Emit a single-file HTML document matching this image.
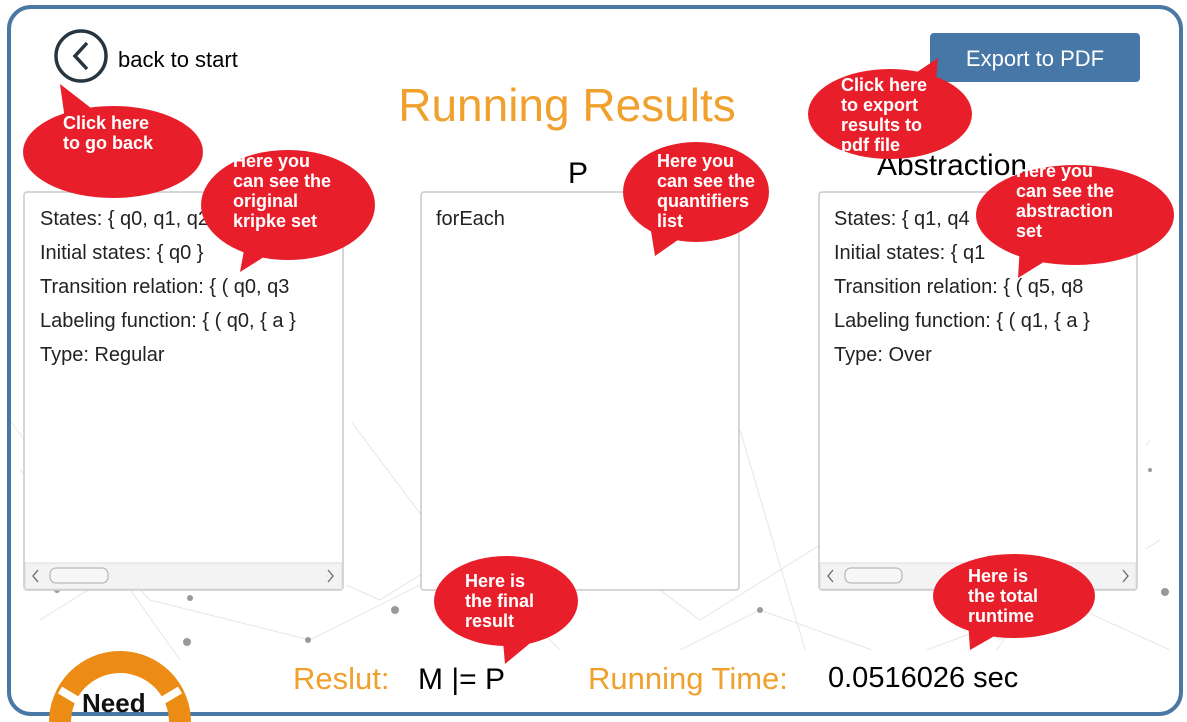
<!DOCTYPE html>
<html><head><meta charset="utf-8"><style>
html,body{margin:0;padding:0;background:#fff;width:1187px;height:722px;overflow:hidden;}
svg{display:block;}
.t{font-family:"Liberation Sans",sans-serif;}
.b{font-family:"Liberation Sans",sans-serif;font-weight:bold;fill:#fff;font-size:18px;}
</style></head><body>
<svg width="1187" height="722" viewBox="0 0 1187 722" xmlns="http://www.w3.org/2000/svg">
<rect width="1187" height="722" fill="#fff"/>
<g stroke="#e6e6e6" stroke-width="1" fill="none">
<path d="M20 470 L150 600 L310 640 L470 560 L600 690 L760 610 L900 660 L1060 600 L1170 650"/>
<path d="M40 620 L200 520 L380 600 L540 500 L700 620 L860 520 L1000 640 L1160 540"/>
<path d="M10 420 L180 660 M350 420 L560 700 M740 430 L820 700 M1150 440 L960 700"/>
</g>
<g fill="#999">
<circle cx="57" cy="590" r="3"/><circle cx="190" cy="598" r="3"/><circle cx="308" cy="640" r="3"/><circle cx="187" cy="642" r="4"/><circle cx="395" cy="610" r="4"/><circle cx="760" cy="610" r="3"/><circle cx="1165" cy="592" r="4"/><circle cx="900" cy="660" r="3"/><circle cx="40" cy="480" r="2"/><circle cx="1150" cy="470" r="2"/>
</g>
<rect x="206" y="650" width="950" height="60" fill="#fff"/>
<rect x="9" y="7" width="1172" height="707" rx="22" fill="none" stroke="#4a78a4" stroke-width="4"/>
<circle cx="81" cy="56" r="25" fill="none" stroke="#263540" stroke-width="3.5"/>
<path d="M87 43 L75 56 L87 69" fill="none" stroke="#263540" stroke-width="3.5"/>
<text x="118" y="67" class="t" font-size="22" fill="#000">back to start</text>
<text x="567" y="121" class="t" font-size="46" fill="#f0a02c" text-anchor="middle">Running Results</text>
<text x="578" y="183" class="t" font-size="30" fill="#000" text-anchor="middle">P</text>
<text x="877" y="175" class="t" font-size="30" fill="#000">Abstraction</text>
<rect x="930" y="33" width="210" height="49" rx="4" fill="#4677a7"/>
<text x="1035" y="66" class="t" font-size="22" fill="#fff" text-anchor="middle">Export to PDF</text>
<g fill="#fff" stroke="#c8c8c8" stroke-width="1.5">
<rect x="24" y="192" width="319" height="398" rx="3"/>
<rect x="421" y="192" width="318" height="398" rx="3"/>
<rect x="819" y="192" width="318" height="398" rx="3"/>
</g>
<g fill="#f3f3f3" stroke="#ddd"><rect x="25" y="563" width="317" height="26"/><rect x="820" y="563" width="316" height="26"/></g>
<g fill="#f7f7f7" stroke="#aaa"><rect x="50" y="568" width="58" height="15" rx="6"/><rect x="845" y="568" width="57" height="15" rx="6"/></g>
<g fill="none" stroke="#666" stroke-width="1.3"><path d="M38 570 L33 576 L38 582 M328 570 L333 576 L328 582 M833 570 L828 576 L833 582 M1123 570 L1128 576 L1123 582"/></g>
<g class="t" font-size="20" fill="#222">
<text x="40" y="225">States: { q0, q1, q2</text>
<text x="40" y="259">Initial states: { q0 }</text>
<text x="40" y="293">Transition relation: { ( q0, q3</text>
<text x="40" y="327">Labeling function: { ( q0, { a }</text>
<text x="40" y="361">Type: Regular</text>
<text x="436" y="225">forEach</text>
<text x="834" y="225">States: { q1, q4</text>
<text x="834" y="259">Initial states: { q1</text>
<text x="834" y="293">Transition relation: { ( q5, q8</text>
<text x="834" y="327">Labeling function: { ( q1, { a }</text>
<text x="834" y="361">Type: Over</text>
</g>
<rect x="344" y="195" width="8" height="390" fill="#fff"/>
<rect x="1138" y="195" width="8" height="390" fill="#fff"/>
<text x="293" y="689" class="t" font-size="31" fill="#f0a02c">Reslut:</text>
<text x="418" y="689" class="t" font-size="30" fill="#000">M |= P</text>
<text x="588" y="689" class="t" font-size="31" fill="#f0a02c">Running Time:</text>
<text x="828" y="687" class="t" font-size="29" fill="#000">0.0516026 sec</text>
<circle cx="120" cy="722" r="60" fill="none" stroke="#ec8c14" stroke-width="22"/>
<g stroke="#fff" stroke-width="8"><path d="M60 690 L80 702 M180 690 L160 702"/></g>
<text x="82" y="712" class="t" font-size="26" font-weight="bold" fill="#111">Need</text>
<g fill="#e81f2a">
<ellipse cx="113" cy="152" rx="90" ry="46"/><path d="M60 84 L100 115 L65 120 Z"/>
<ellipse cx="288" cy="205" rx="87" ry="55"/><path d="M240 272 L245 245 L275 250 Z"/>
<ellipse cx="696" cy="192" rx="73" ry="50"/><path d="M655 256 L650 225 L685 235 Z"/>
<ellipse cx="890" cy="114" rx="82" ry="45"/><path d="M938 58 L905 80 L935 90 Z"/>
<ellipse cx="1075" cy="215" rx="99" ry="50"/><path d="M1018 278 L1020 245 L1055 255 Z"/>
<ellipse cx="506" cy="601" rx="72" ry="45"/><path d="M505 664 L502 630 L540 635 Z"/>
<ellipse cx="1014" cy="596" rx="81" ry="42"/><path d="M970 650 L968 620 L1005 630 Z"/>
</g>
<g class="b">
<text x="63" y="129">Click here</text><text x="63" y="149">to go back</text>
<text x="233" y="167">Here you</text><text x="233" y="187">can see the</text><text x="233" y="207">original</text><text x="233" y="227">kripke set</text>
<text x="657" y="167">Here you</text><text x="657" y="187">can see the</text><text x="657" y="207">quantifiers</text><text x="657" y="227">list</text>
<text x="841" y="91">Click here</text><text x="841" y="111">to export</text><text x="841" y="131">results to</text><text x="841" y="151">pdf file</text>
<text x="1016" y="177">Here you</text><text x="1016" y="197">can see the</text><text x="1016" y="217">abstraction</text><text x="1016" y="237">set</text>
<text x="465" y="587">Here is</text><text x="465" y="607">the final</text><text x="465" y="627">result</text>
<text x="968" y="582">Here is</text><text x="968" y="602">the total</text><text x="968" y="622">runtime</text>
</g>
</svg>
</body></html>
